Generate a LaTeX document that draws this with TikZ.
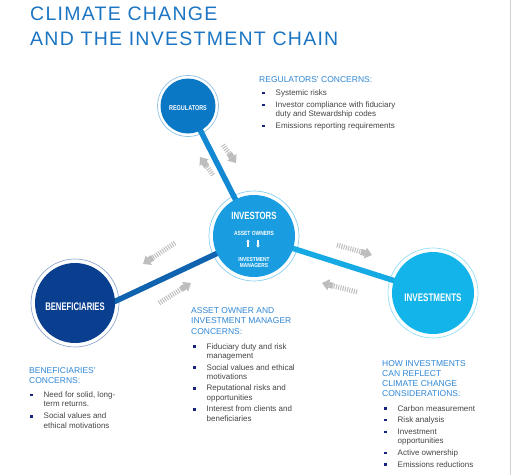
\documentclass[tikz,border=0pt]{standalone}
\usepackage{fontspec}
\setmainfont{Liberation Sans}
\newfontfamily\titlefont[LetterSpace=6.5]{Liberation Sans}
\usetikzlibrary{positioning,arrows.meta,backgrounds}
\definecolor{title}{HTML}{1B75C2}
\definecolor{regblue}{HTML}{0B78C6}
\definecolor{invblue}{HTML}{1A9DE0}
\definecolor{benblue}{HTML}{0A3E8E}
\definecolor{fundblue}{HTML}{13B4EA}
\definecolor{head}{HTML}{2F86D3}
\definecolor{bodytext}{HTML}{444444}
\definecolor{bullet}{HTML}{17237F}
\definecolor{flowgray}{HTML}{BDBDBD}
\newcommand{\bul}{\makebox[13.5pt][l]{\textcolor{bullet}{\rule[1.3pt]{2.4pt}{2.4pt}}}}
\newcommand{\cn}[2][0.74]{\scalebox{#1}[1]{#2}}
\tikzset{
  hub/.style={circle,inner sep=0pt},
  hubtext/.style={anchor=base,inner sep=0pt,text=white,font=\bfseries},
  halo/.style={line width=0.7pt},
  link/.style={line width=5.5pt},
  flow/.style={draw=flowgray,line width=5pt,dash pattern=on 1pt off 1.3pt,
    -{Rectangle[length=4.5pt,width=6pt,sep=0pt]Triangle[length=7pt,width=11pt]}},
  heading/.style={anchor=base west,inner sep=0pt,align=left,text=head,font=\fontsize{8.5}{10.2}\selectfont},
  items/.style={anchor=base west,inner sep=0pt,align=left,text=bodytext,font=\fontsize{8}{9.2}\selectfont}
}
\begin{document}
\begin{tikzpicture}[x=1pt,y=-1pt]
  \useasboundingbox (0,0) rectangle (512,475);
  \draw[gray!35,line width=0.8pt] (510.6,0) -- (510.6,475);

  % title
  \node[anchor=base west,inner sep=0pt,text=title,font=\titlefont\fontsize{19.5}{19.5}\selectfont] (title1) at (30,20) {CLIMATE CHANGE};
  \node[anchor=base west,inner sep=0pt,text=title,font=\titlefont\fontsize{19.5}{19.5}\selectfont] (title2) at (30,45) {AND THE INVESTMENT CHAIN};

  % the four circles
  \node[hub,fill=regblue,minimum size=55pt] (reg) at (188,106) {};
  \node[hub,fill=invblue,minimum size=82pt] (inv) at (254,236) {};
  \node[hub,fill=benblue,minimum size=80pt] (ben) at (75,303) {};
  \node[hub,fill=fundblue,minimum size=82pt] (fund) at (433,293) {};
  \coordinate (benport) at (95,310.8);

  \begin{scope}[on background layer]
    \draw[halo,draw=regblue!45] (reg.center) circle (30.5);
    \draw[halo,draw=invblue!50] (inv.center) circle (45);
    \draw[halo,draw=benblue!45] (ben.center) circle (44);
    \draw[halo,draw=fundblue!45] (fund.center) circle (45);
    \draw[link,regblue!55!invblue] (reg.center) -- (inv.center);
    \draw[link,benblue!60!invblue] (benport) -- (inv.center);
    \draw[link,invblue!45!fundblue] (inv.center) -- (fund.center);
  \end{scope}

  \node[hubtext,font=\bfseries\fontsize{7}{7}\selectfont] (regname) at (188,110) {\cn[0.78]{REGULATORS}};
  \node[hubtext,font=\bfseries\fontsize{10.5}{10.5}\selectfont] (invname) at (254,219) {\cn[0.75]{INVESTORS}};
  \node[hubtext,font=\bfseries\fontsize{6}{6}\selectfont] (owners) at (254,235) {\cn[0.82]{ASSET OWNERS}};
  \node[hubtext,font=\bfseries\fontsize{5.8}{6.5}\selectfont,align=center] (managers) at (254,267.5) {\cn[0.84]{INVESTMENT}\\\cn[0.84]{MANAGERS}};
  \node[hubtext,font=\bfseries\fontsize{11}{11}\selectfont] (benname) at (75,310) {\cn[0.7]{BENEFICIARIES}};
  \node[hubtext,font=\bfseries\fontsize{11}{11}\selectfont] (fundname) at (433,301) {\cn[0.73]{INVESTMENTS}};
  \draw[white,line width=1.1pt,-{Triangle[length=2.2pt,width=3.4pt]}] (248,247) -- (248,239.5);
  \draw[white,line width=1.1pt,-{Triangle[length=2.2pt,width=3.4pt]}] (258,240) -- (258,247.5);

  % grey flow arrows
  \coordinate (r1t) at (213,175); \coordinate (r1h) at (200,157);
  \coordinate (r2t) at (223,145); \coordinate (r2h) at (236,163);
  \coordinate (b1t) at (175,243); \coordinate (b1h) at (143,264);
  \coordinate (b2t) at (159,303); \coordinate (b2h) at (191,283);
  \coordinate (f1t) at (337,245); \coordinate (f1h) at (372,255);
  \coordinate (f2t) at (357,292); \coordinate (f2h) at (322,283);
  \draw[flow] (r1t) -- (r1h);
  \draw[flow] (r2t) -- (r2h);
  \draw[flow] (b1t) -- (b1h);
  \draw[flow] (b2t) -- (b2h);
  \draw[flow] (f1t) -- (f1h);
  \draw[flow] (f2t) -- (f2h);

  % concerns (multi-line nodes sit on their last baseline)
  \node[heading] (regh) at (259,82.3) {REGULATORS' CONCERNS:};
  \node[items] (regl) at (262,128.5) {\bul Systemic risks\\[2.7pt]
    \bul Investor compliance with fiduciary\\\hspace*{13.5pt}duty and Stewardship codes\\[2.7pt]
    \bul Emissions reporting requirements};

  \node[heading] (invh) at (191,334) {ASSET OWNER AND\\INVESTMENT MANAGER\\CONCERNS:};
  \node[items] (invl) at (193,421) {\bul Fiduciary duty and risk\\\hspace*{13.5pt}management\\[2.5pt]
    \bul Social values and ethical\\\hspace*{13.5pt}motivations\\[2.5pt]
    \bul Reputational risks and\\\hspace*{13.5pt}opportunities\\[2.5pt]
    \bul Interest from clients and\\\hspace*{13.5pt}beneficiaries};

  \node[heading] (benh) at (29,383.3) {BENEFICIARIES'\\CONCERNS:};
  \node[items] (benl) at (30,428) {\bul Need for solid, long-\\\hspace*{13.5pt}term returns.\\[2.7pt]
    \bul Social values and\\\hspace*{13.5pt}ethical motivations};

  \node[heading] (fundh) at (382,396.7) {HOW INVESTMENTS\\CAN REFLECT\\CLIMATE CHANGE\\CONSIDERATIONS:};
  \node[items] (fundl) at (384,467) {\bul Carbon measurement\\[2.5pt]
    \bul Risk analysis\\[2.5pt]
    \bul Investment\\\hspace*{13.5pt}opportunities\\[2.5pt]
    \bul Active ownership\\[2.5pt]
    \bul Emissions reductions};
\end{tikzpicture}
\end{document}
